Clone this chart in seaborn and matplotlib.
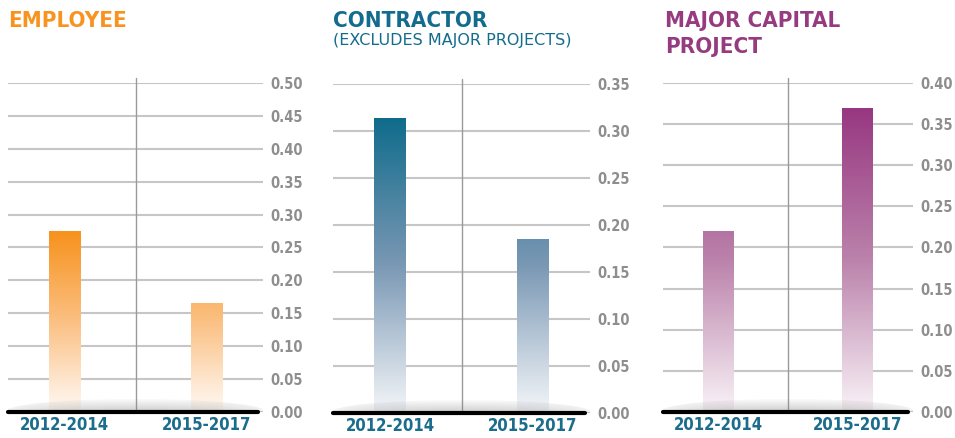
import numpy as np
import seaborn as sns
import matplotlib.pyplot as plt
from matplotlib.colors import LinearSegmentedColormap
from matplotlib.patches import Ellipse

categories = ['2012-2014', '2015-2017']
employee = [0.275, 0.165]
contractor = [0.314, 0.185]
major_capital = [0.22, 0.37]

employee_ticks = [0.00, 0.05, 0.10, 0.15, 0.20, 0.25, 0.30, 0.35, 0.40, 0.45, 0.50]
contractor_ticks = [0.00, 0.05, 0.10, 0.15, 0.20, 0.25, 0.30, 0.35]
capital_ticks = [0.00, 0.05, 0.10, 0.15, 0.20, 0.25, 0.30, 0.35, 0.40]

sns.set_style('white')
plt.rcParams['font.family'] = ['DejaVu Sans']

W, H = 955, 438
fig = plt.figure(figsize=(W / 100, H / 100), dpi=100)


def px_axes(x0, x1, ytop, ybot):
    return fig.add_axes([x0 / W, 1 - ybot / H, (x1 - x0) / W, (ybot - ytop) / H])


panels = [
    (px_axes(8, 263, 83, 412), employee, employee_ticks,
     ['#fffaf5', '#fbc083', '#f7921c']),
    (px_axes(333, 590, 84, 413), contractor, contractor_ticks,
     ['#f4f6f9', '#7a98b4', '#0f6b8b']),
    (px_axes(663, 913, 83, 412), major_capital, capital_ticks,
     ['#f9f3f7', '#bb82ab', '#973781']),
]

for ax, values, ticks, grad in panels:
    sns.barplot(x=categories, y=values, ax=ax, width=0.22, color='white')
    ax.set_xlim(-0.4, 1.4)
    ax.set_ylim(0, ticks[-1])
    ax.set_yticks(ticks)
    ax.set_yticklabels([f'{t:.2f}' for t in ticks])
    ax.yaxis.tick_right()
    ax.tick_params(axis='y', length=0, pad=5.5, labelsize=10.5, labelcolor='#8e8e8e')
    ax.tick_params(axis='x', length=0, pad=3, labelsize=12, labelcolor='#1c6d8c')
    for lab in ax.get_yticklabels() + ax.get_xticklabels():
        lab.set_fontweight('bold')
        lab.set_fontstretch('condensed')
    ax.set_xlabel('')
    ax.set_ylabel('')
    sns.despine(ax=ax, left=True, bottom=True, right=True, top=True)
    ax.set_axisbelow(True)
    ax.yaxis.grid(True, color='#c6c6c6', lw=1.5)
    ax.xaxis.grid(False)

    # gradient fill mapped to value, clipped to each bar
    cmap = LinearSegmentedColormap.from_list('g', grad)
    vmax = max(values)
    img = np.linspace(0, 1, 256).reshape(-1, 1)
    for p in ax.patches:
        p.set_edgecolor('none')
        im = ax.imshow(img, cmap=cmap, aspect='auto', origin='lower',
                       extent=(p.get_x(), p.get_x() + p.get_width(), 0, vmax), zorder=2)
        im.set_clip_path(p)

    ax.axvline(0.5, ymin=0, ymax=1.015, color='#9a9a9a', lw=1, clip_on=False, zorder=1)

    # soft shadow above baseline
    hump = ticks[-1] * 0.04
    ell = Ellipse((0.5, 0), 1.85, 2 * hump, facecolor='none', edgecolor='none')
    ax.add_patch(ell)
    yy = np.linspace(0, 1, 64).reshape(-1, 1)
    xx = np.linspace(-1, 1, 128).reshape(1, -1)
    rgba = np.zeros((64, 128, 4))
    rgba[..., :3] = 0.5
    rgba[..., 3] = 0.4 * (1 - yy) * (1 - xx ** 2) ** 0.5
    sh = ax.imshow(rgba, aspect='auto', origin='lower',
                   extent=(-0.425, 1.425, 0, hump), zorder=3)
    sh.set_clip_path(ell)
    ax.set_xlim(-0.4, 1.4)
    ax.set_ylim(0, ticks[-1])

    ax.axhline(0, xmin=0, xmax=0.98, color='black', lw=3, zorder=5, clip_on=False)

title_kw = dict(fontsize=16, fontweight='bold', fontstretch='condensed', va='baseline')
fig.text(8 / W, 1 - 27 / H, 'EMPLOYEE', color='#f7931e', **title_kw)
fig.text(333 / W, 1 - 27 / H, 'CONTRACTOR', color='#136c8d', **title_kw)
fig.text(333 / W, 1 - 45 / H, '(EXCLUDES MAJOR PROJECTS)', color='#136c8d',
         fontsize=11.5, va='baseline')
fig.text(665 / W, 1 - 27 / H, 'MAJOR CAPITAL', color='#973b81', **title_kw)
fig.text(665 / W, 1 - 53 / H, 'PROJECT', color='#973b81', **title_kw)

fig.savefig('out.png', dpi=100)
